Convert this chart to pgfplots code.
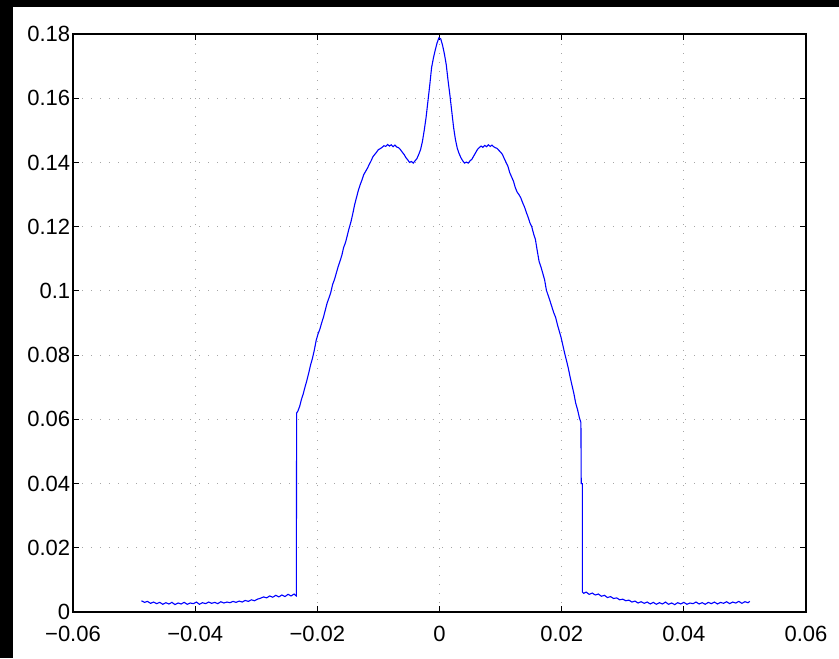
\documentclass[border=0pt]{standalone}
\usepackage{pgfplots}
\pgfplotsset{compat=1.18}
\usepackage{fontspec}
\setmainfont{Liberation Sans}
\begin{document}
\begin{tikzpicture}
\begin{axis}[
  scale only axis,
  width=366.5pt, height=289pt,
  xmin=-0.06, xmax=0.06, ymin=0, ymax=0.18,
  xtick={-0.06,-0.04,-0.02,0,0.02,0.04,0.06},
  xticklabels={−0.06,−0.04,−0.02,0,0.02,0.04,0.06},
  ytick={0,0.02,0.04,0.06,0.08,0.1,0.12,0.14,0.16,0.18},
  scaled ticks=false,
  /pgf/number format/fixed,
  /pgf/number format/assume math mode=true,
  tick label style={font=\fontsize{11}{13}\selectfont},
  xticklabel style={yshift=-3.5pt},
  yticklabel style={inner xsep=1.2pt},
  tick align=inside,
  major tick length=3pt,
  tick style={black, line width=0.5pt},
  axis line style={black, line width=0.6pt},
  grid=major,
  major grid style={gray!70, line width=0.5pt, dash pattern=on 0.5pt off 4pt},
  every axis plot/.append style={line width=0.55pt},
]
\addplot[color={rgb,255:red,0;green,0;blue,255}, mark=none] coordinates {
(-0.0488,0.0035) (-0.0483,0.0030) (-0.0478,0.0033) (-0.0473,0.0027) (-0.0468,0.0031)
(-0.0463,0.0026) (-0.0458,0.0030) (-0.0453,0.0024) (-0.0448,0.0029) (-0.0443,0.0025)
(-0.0438,0.0030) (-0.0433,0.0023) (-0.0428,0.0028) (-0.0423,0.0025) (-0.0418,0.0030)
(-0.0413,0.0024) (-0.0408,0.0028) (-0.0403,0.0026) (-0.0398,0.0031) (-0.0393,0.0024)
(-0.0388,0.0029) (-0.0383,0.0026) (-0.0378,0.0031) (-0.0373,0.0027) (-0.0368,0.0030)
(-0.0363,0.0026) (-0.0358,0.0032) (-0.0353,0.0028) (-0.0348,0.0031) (-0.0343,0.0029)
(-0.0338,0.0033) (-0.0333,0.0030) (-0.0328,0.0034) (-0.0323,0.0031) (-0.0318,0.0036)
(-0.0313,0.0033) (-0.0308,0.0038) (-0.0303,0.0035) (-0.0298,0.0040) (-0.0293,0.0043)
(-0.0288,0.0047) (-0.0283,0.0044) (-0.0278,0.0050) (-0.0273,0.0046) (-0.0268,0.0052)
(-0.0263,0.0047) (-0.0258,0.0053) (-0.0253,0.0048) (-0.0248,0.0055) (-0.0243,0.0050)
(-0.0238,0.0056) (-0.0236,0.0052) (-0.02344,0.0050) (-0.02344,0.0230) (-0.02338,0.0410)
(-0.02344,0.0240) (-0.02338,0.0620)
(-0.0232,0.0625) (-0.0229,0.0640) (-0.0226,0.0662) (-0.0223,0.0680) (-0.0220,0.0702)
(-0.0217,0.0722) (-0.0214,0.0745) (-0.0211,0.0770) (-0.0208,0.0790) (-0.0205,0.0815)
(-0.0202,0.0845) (-0.0199,0.0865) (-0.0196,0.0880) (-0.0193,0.0900) (-0.0190,0.0918)
(-0.0187,0.0940) (-0.0184,0.0962) (-0.0181,0.0978) (-0.0178,0.0995) (-0.0175,0.1020)
(-0.0172,0.1035) (-0.0169,0.1055) (-0.0166,0.1075) (-0.0163,0.1092) (-0.0160,0.1110)
(-0.0157,0.1135) (-0.0154,0.1150) (-0.0151,0.1172) (-0.0148,0.1195) (-0.0145,0.1215)
(-0.0142,0.1240) (-0.0139,0.1268) (-0.0136,0.1290) (-0.0133,0.1312) (-0.0130,0.1330)
(-0.0127,0.1345) (-0.0124,0.1362) (-0.0121,0.1372) (-0.0118,0.1382) (-0.0115,0.1394)
(-0.0112,0.1405) (-0.0109,0.1418) (-0.0106,0.1425) (-0.0103,0.1432) (-0.0100,0.1440)
(-0.0097,0.1443) (-0.0094,0.1447) (-0.0091,0.1452) (-0.0088,0.1450) (-0.0085,0.1456)
(-0.0082,0.1451) (-0.0079,0.1455) (-0.0076,0.1449) (-0.0073,0.1454) (-0.0070,0.1448)
(-0.0067,0.1446) (-0.0064,0.1440) (-0.0061,0.1432) (-0.0058,0.1425) (-0.0055,0.1415)
(-0.0052,0.1408) (-0.0049,0.1400) (-0.0046,0.1403) (-0.0043,0.1398) (-0.0040,0.1405)
(-0.0037,0.1412) (-0.0034,0.1425) (-0.0031,0.1440) (-0.0028,0.1465) (-0.0025,0.1500)
(-0.0022,0.1540) (-0.0019,0.1590) (-0.0016,0.1640) (-0.0013,0.1695) (-0.0010,0.1725)
(-0.0007,0.1750) (-0.0004,0.1772) (-0.0001,0.1788) (0.0002,0.1785) (0.0005,0.1765)
(0.0008,0.1738) (0.0011,0.1705) (0.0014,0.1655) (0.0017,0.1610) (0.0020,0.1560)
(0.0023,0.1510) (0.0026,0.1472) (0.0029,0.1445) (0.0032,0.1428) (0.0035,0.1415)
(0.0038,0.1405) (0.0041,0.1398) (0.0044,0.1401) (0.0047,0.1398) (0.0050,0.1405)
(0.0053,0.1410) (0.0056,0.1420) (0.0059,0.1430) (0.0062,0.1440) (0.0065,0.1446)
(0.0068,0.1451) (0.0071,0.1447) (0.0074,0.1453) (0.0077,0.1449) (0.0080,0.1455)
(0.0083,0.1450) (0.0086,0.1454) (0.0088,0.1450) (0.0091,0.1446) (0.0094,0.1444)
(0.0097,0.1438) (0.0100,0.1432) (0.0103,0.1425) (0.0106,0.1412) (0.0109,0.1400)
(0.0112,0.1388) (0.0115,0.1368) (0.0118,0.1355) (0.0121,0.1342) (0.0124,0.1322)
(0.0127,0.1308) (0.0130,0.1300) (0.0133,0.1290) (0.0136,0.1275) (0.0139,0.1262)
(0.0142,0.1245) (0.0145,0.1230) (0.0148,0.1212) (0.0151,0.1200) (0.0154,0.1178)
(0.0157,0.1160) (0.0160,0.1125) (0.0163,0.1092) (0.0166,0.1075) (0.0169,0.1055)
(0.0172,0.1035) (0.0175,0.1002) (0.0178,0.0985) (0.0181,0.0968) (0.0184,0.0950)
(0.0187,0.0932) (0.0190,0.0918) (0.0193,0.0895) (0.0196,0.0875) (0.0199,0.0855)
(0.0202,0.0830) (0.0205,0.0805) (0.0208,0.0782) (0.0211,0.0758) (0.0214,0.0730)
(0.0217,0.0705) (0.0220,0.0680) (0.0223,0.0650) (0.0226,0.0630) (0.0229,0.0605)
(0.02315,0.0590) (0.02320,0.0400) (0.02340,0.0400) (0.02340,0.0062)
(0.0236,0.0058) (0.0240,0.0062) (0.0245,0.0055) (0.0250,0.0059) (0.0255,0.0053)
(0.0260,0.0056) (0.0265,0.0049) (0.0270,0.0052) (0.0275,0.0045) (0.0280,0.0048)
(0.0285,0.0042) (0.0290,0.0044) (0.0295,0.0038) (0.0300,0.0040) (0.0305,0.0035)
(0.0310,0.0037) (0.0315,0.0031) (0.0320,0.0034) (0.0325,0.0028) (0.0330,0.0032)
(0.0335,0.0027) (0.0340,0.0031) (0.0345,0.0025) (0.0350,0.0030) (0.0355,0.0024)
(0.0360,0.0029) (0.0365,0.0025) (0.0370,0.0031) (0.0375,0.0024) (0.0380,0.0028)
(0.0385,0.0023) (0.0390,0.0029) (0.0395,0.0025) (0.0400,0.0030) (0.0405,0.0024)
(0.0410,0.0028) (0.0415,0.0026) (0.0420,0.0031) (0.0425,0.0025) (0.0430,0.0029)
(0.0435,0.0024) (0.0440,0.0030) (0.0445,0.0026) (0.0450,0.0031) (0.0455,0.0025)
(0.0460,0.0030) (0.0465,0.0027) (0.0470,0.0032) (0.0475,0.0026) (0.0480,0.0031)
(0.0485,0.0028) (0.0490,0.0033) (0.0495,0.0027) (0.0500,0.0032) (0.0505,0.0029)
(0.0508,0.0033)
};
\end{axis}
\fill[black] (-36.5pt,-23pt) rectangle (-30pt,306pt);
\fill[black] (-36.5pt,302.5pt) rectangle (383pt,306pt);
\pgfresetboundingbox
\path[use as bounding box] (-36.5pt,-23pt) rectangle (383pt,306pt);
\end{tikzpicture}
\end{document}
